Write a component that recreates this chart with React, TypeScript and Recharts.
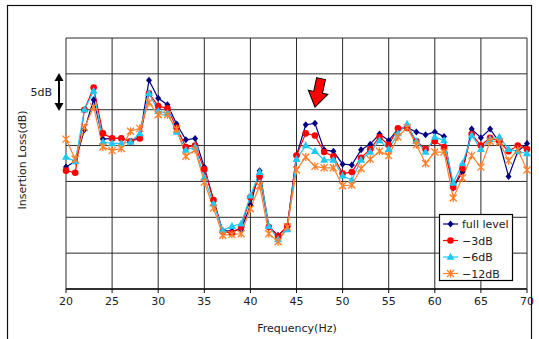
import { CartesianGrid, Line, LineChart, XAxis, YAxis } from "recharts";

// frequency (Hz), 1 Hz steps
const FREQS = [
  20, 21, 22, 23, 24, 25, 26, 27, 28, 29, 30, 31, 32, 33, 34, 35, 36, 37, 38, 39, 40, 41, 42, 43, 44, 45,
  46, 47, 48, 49, 50, 51, 52, 53, 54, 55, 56, 57, 58, 59, 60, 61, 62, 63, 64, 65, 66, 67, 68, 69, 70,
];

// insertion loss, dB (relative; no scale printed, 5 dB per grid step)
const FULL_LEVEL = [
  17.0, 17.8, 22.2, 26.4, 20.9, 21.0, 21.0, 20.6, 21.2, 29.1, 26.6, 25.7, 23.0, 20.8, 21.0, 17.0, 12.4, 8.1,
  8.1, 8.3, 11.7, 16.5, 8.65, 7.5, 8.6, 18.6, 22.9, 23.1, 19.4, 19.2, 17.4, 17.3, 19.4, 20.2, 21.6, 20.7,
  22.3, 22.5, 21.9, 21.5, 21.9, 21.25, 14.1, 16.3, 22.3, 21.1, 22.3, 20.5, 15.7, 19.2, 20.3,
];
const MINUS_3DB = [
  16.5, 16.2, 25.0, 28.1, 21.7, 21.0, 21.0, 20.6, 21.0, 27.3, 25.5, 25.2, 22.5, 19.8, 20.0, 16.7, 12.4, 8.0,
  7.8, 8.65, 12.8, 15.7, 8.65, 7.4, 8.75, 18.6, 21.7, 21.4, 19.1, 18.5, 16.1, 16.3, 18.3, 19.5, 21.2, 20.1,
  22.4, 22.5, 20.6, 19.5, 20.6, 19.8, 14.2, 16.8, 21.6, 20.0, 21.1, 20.6, 19.2, 20.0, 19.5,
];
const MINUS_6DB = [
  18.4, 17.8, 25.0, 27.6, 20.5, 20.3, 20.3, 20.5, 21.7, 27.3, 24.8, 24.5, 21.9, 19.4, 19.8, 15.5, 11.9, 8.2,
  8.75, 9.1, 13.0, 16.3, 8.75, 6.9, 8.3, 18.1, 20.0, 19.2, 18.0, 18.0, 15.8, 15.2, 18.0, 19.1, 20.7, 19.5,
  21.7, 23.0, 20.6, 19.1, 21.2, 20.7, 14.8, 17.5, 21.4, 19.5, 20.9, 21.2, 19.5, 19.2, 18.9,
];
const MINUS_12DB = [
  20.9, 18.1, 22.5, 25.4, 19.8, 19.3, 19.6, 22.0, 22.4, 26.0, 24.3, 24.3, 22.3, 18.5, 19.4, 14.9, 11.3, 7.5,
  7.6, 7.7, 11.2, 14.4, 7.7, 6.6, 8.65, 16.6, 18.4, 17.1, 16.9, 16.9, 14.4, 14.5, 16.8, 18.1, 19.2, 18.6,
  21.2, 22.5, 20.1, 17.5, 19.1, 19.1, 12.7, 15.5, 18.6, 17.0, 20.6, 20.5, 17.9, 19.4, 16.6,
];

const SERIES_NAMES = ["full level", "\u22123dB", "\u22126dB", "\u221212dB"];
const X_TICKS = [20, 25, 30, 35, 40, 45, 50, 55, 60, 65, 70];
const Y_TICKS = [0, 5, 10, 15, 20, 25, 30, 35];

const NAVY = "#000080";
const RED = "#ff0000";
const CYAN = "#1ec8f5";
const ORANGE = "#ff7f2a";
const FONT = "'DejaVu Sans', sans-serif";
const INK = "#222";

const rows = FREQS.map((freq, i) => ({
  freq,
  full: FULL_LEVEL[i],
  m3: MINUS_3DB[i],
  m6: MINUS_6DB[i],
  m12: MINUS_12DB[i],
}));

type DotProps = { cx?: number; cy?: number; index?: number };

function diamond(cx: number, cy: number) {
  return <path d={`M${cx},${cy - 3.5}L${cx + 3},${cy}L${cx},${cy + 3.5}L${cx - 3},${cy}Z`} fill={NAVY} />;
}
function circle(cx: number, cy: number) {
  return <circle cx={cx} cy={cy} r={3.3} fill={RED} />;
}
function triangle(cx: number, cy: number) {
  return <path d={`M${cx},${cy - 4.2}L${cx + 4},${cy + 2.8}L${cx - 4},${cy + 2.8}Z`} fill={CYAN} />;
}
function star(cx: number, cy: number) {
  return (
    <path
      d={`M${cx - 3.5},${cy - 3.5}L${cx + 3.5},${cy + 3.5}M${cx - 3.5},${cy + 3.5}L${cx + 3.5},${cy - 3.5}M${cx},${cy - 4}L${cx},${cy + 4}`}
      stroke={ORANGE}
      strokeWidth={1.3}
      fill="none"
    />
  );
}

const makeDot = (draw: (cx: number, cy: number) => JSX.Element) => (props: DotProps) => {
  const { cx, cy, index } = props;
  if (cx == null || cy == null) return <g key={index} />;
  return <g key={index}>{draw(cx, cy)}</g>;
};

const MARKERS = [diamond, circle, triangle, star];
const COLORS = [NAVY, RED, CYAN, ORANGE];

function Overlay() {
  return (
    <svg width={539} height={339} style={{ position: "absolute", left: 0, top: 0, pointerEvents: "none" }}>
      <rect x={7.5} y={5.5} width={524} height={345} fill="none" stroke="#111" strokeWidth={1.2} />
      <text
        transform="translate(26,160) rotate(-90)"
        textAnchor="middle"
        fontFamily={FONT}
        fontSize={11}
        fill={INK}
      >
        Insertion Loss(dB)
      </text>
      <text x={297} y={332} textAnchor="middle" fontFamily={FONT} fontSize={11} fill={INK}>
        Frequency(Hz)
      </text>
      <text x={52} y={96} textAnchor="end" fontFamily={FONT} fontSize={11} fill={INK}>
        5dB
      </text>
      <line x1={59} y1={79} x2={59} y2={105} stroke="#000" strokeWidth={2} />
      <path d="M59,73L54.5,81L63.5,81Z" fill="#000" />
      <path d="M59,111L54.5,103L63.5,103Z" fill="#000" />
      <path
        transform="translate(315,107) rotate(12)"
        d="M-4.5,-29L4.5,-29L4.5,-15L10,-15L0,0L-10,-15L-4.5,-15Z"
        fill="#ff0000"
        stroke="#000"
        strokeWidth={1}
      />
      <rect x={439.5} y={214.5} width={73} height={66} fill="#fff" stroke="#000" strokeWidth={1.2} />
      {SERIES_NAMES.map((name, i) => {
        const y = 224 + i * 16.5;
        return (
          <g key={name}>
            <line x1={443} y1={y} x2={458} y2={y} stroke={COLORS[i]} strokeWidth={1.2} />
            {MARKERS[i](450.5, y)}
            <text x={462} y={y + 4} fontFamily={FONT} fontSize={11} fill={INK}>
              {name}
            </text>
          </g>
        );
      })}
    </svg>
  );
}

export default function App() {
  const keys = ["full", "m3", "m6", "m12"];
  return (
    <div style={{ position: "absolute", left: 0, top: 0, width: 539, height: 339, background: "#fff" }}>
      <LineChart width={539} height={339} data={rows} margin={{ top: 38, right: 12, bottom: 20, left: 66 }}>
        <CartesianGrid stroke="#2a2a2a" strokeWidth={1} />
        <XAxis
          dataKey="freq"
          type="number"
          domain={[20, 70]}
          ticks={X_TICKS}
          interval={0}
          height={30}
          tickSize={4}
          tickMargin={4}
          tick={{ fontSize: 11, fill: INK, fontFamily: FONT }}
          tickLine={{ stroke: "#111" }}
          axisLine={{ stroke: "#111", strokeWidth: 1.5 }}
        />
        <YAxis type="number" domain={[0, 35]} ticks={Y_TICKS} hide />
        {keys.map((k, i) => (
          <Line
            key={k}
            dataKey={k}
            name={SERIES_NAMES[i]}
            type="linear"
            stroke={COLORS[i]}
            strokeWidth={1.2}
            dot={makeDot(MARKERS[i])}
            activeDot={false}
            isAnimationActive={false}
          />
        ))}
      </LineChart>
      <Overlay />
    </div>
  );
}
